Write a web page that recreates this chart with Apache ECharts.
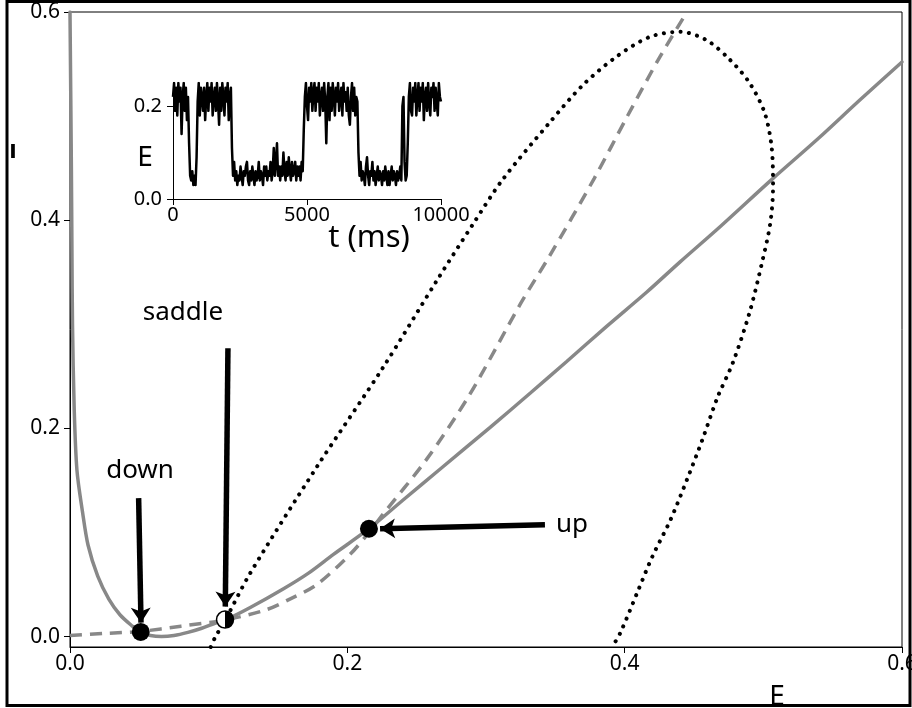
<!DOCTYPE html>
<html><head><meta charset="utf-8">
<script src="https://cdn.jsdelivr.net/npm/echarts@6/dist/echarts.min.js"></script>
<style>html,body{margin:0;padding:0;background:#fff}#c{width:912px;height:708px}</style>
</head><body><div id="c"></div>
<script>
// ---------- data ----------
const mainXTicks = [0, 0.2, 0.4, 0.6];
const mainYTicks = [0, 0.2, 0.4, 0.6];
const insetXTicks = [0, 5000, 10000];
const insetYTicks = [0, 0.2];

// solid grey nullcline [E, I]
const solidCurve = [
  [0.000,0.600],[0.0010,0.450],[0.0014,0.370],[0.0018,0.300],[0.003,0.220],[0.005,0.160],
  [0.009,0.120],[0.013,0.088],[0.020,0.058],[0.028,0.036],[0.036,0.021],[0.045,0.010],
  [0.051,0.004],[0.058,0.001],[0.066,0.000],[0.075,0.001],[0.085,0.004],[0.095,0.008],
  [0.105,0.013],[0.112,0.016],[0.130,0.028],[0.154,0.046],[0.172,0.061],[0.190,0.079],
  [0.2156,0.1036],[0.240,0.131],[0.267,0.161],[0.303,0.201],[0.332,0.234],[0.358,0.264],
  [0.387,0.298],[0.416,0.331],[0.440,0.360],[0.469,0.394],[0.506,0.439],[0.540,0.479],
  [0.570,0.516],[0.600,0.552]
];
// dashed grey nullcline [E, I]
const dashedCurve = [
  [0.000,0.001],[0.025,0.003],[0.051,0.005],[0.080,0.010],[0.112,0.016],[0.142,0.026],
  [0.160,0.037],[0.178,0.050],[0.202,0.079],[0.2156,0.1000],[0.226,0.118],[0.257,0.170],
  [0.288,0.232],[0.325,0.320],[0.346,0.366],[0.378,0.440],[0.402,0.500],[0.425,0.556],
  [0.444,0.598]
];
// dotted black curve [E, I]
const dottedCurve = [
  [0.1015,-0.010],[0.1046,-0.001],[0.112,0.016],[0.130,0.061],[0.178,0.163],[0.226,0.259],
  [0.265,0.343],[0.291,0.397],[0.312,0.439],[0.346,0.494],[0.370,0.530],[0.394,0.557],
  [0.418,0.576],[0.440,0.581],[0.459,0.573],[0.476,0.554],[0.490,0.532],[0.501,0.503],
  [0.506,0.470],[0.507,0.432],[0.505,0.397],[0.499,0.359],[0.490,0.311],[0.478,0.263],
  [0.467,0.230],[0.456,0.189],[0.445,0.151],[0.433,0.112],[0.420,0.077],[0.409,0.042],
  [0.397,0.004],[0.391,-0.010]
];
// fixed points
const pointNames = ['down', 'saddle', 'up'];
const pointE = [0.0510, 0.1118, 0.2156];
const pointI = [0.0045, 0.0163, 0.1036];
// annotation texts
const labelE = [0.0505, 0.0815, 0.362];
const labelI = [0.159, 0.311, 0.108];
// annotation arrows: [startE, startI, tipE, tipI]
const arrowDown = [0.0495, 0.133, 0.0512, 0.0134];
const arrowSaddle = [0.1139, 0.277, 0.1120, 0.0288];
const arrowUp = [0.3425, 0.1075, 0.2236, 0.1036];

// inset trace: E sampled every 40 ms from 0 to 10000 ms
const traceStepMs = 40;
const eTrace = [
  0.22,0.25,0.19,0.24,0.18,0.25,0.21,0.24,0.14,0.22,0.25,0.19,0.24,0.17,0.22,
  0.12,0.05,0.04,0.06,0.03,0.05,0.03,0.09,
  0.21,0.25,0.18,0.24,0.22,0.19,0.24,0.17,0.22,0.25,
  0.19,0.24,0.21,0.25,0.18,0.22,0.24,0.19,0.25,0.21,
  0.16,0.24,0.19,0.25,0.22,0.18,0.24,0.21,0.25,0.17,
  0.22,0.24,
  0.11,0.05,
  0.08,0.04,0.06,0.03,0.05,0.04,0.07,0.05,0.03,0.06,
  0.05,0.07,0.08,0.04,0.03,0.06,0.04,0.07,0.05,0.03,
  0.06,0.04,0.05,0.08,0.04,0.06,0.05,0.03,0.07,0.05,
  0.07,0.04,0.06,0.05,0.08,0.04,0.06,0.11,0.05,0.08,
  0.12,0.05,0.07,0.04,0.07,0.05,0.10,0.06,0.04,0.08,
  0.05,0.09,0.06,0.04,0.08,0.05,0.06,0.08,0.04,0.07,
  0.05,0.07,0.04,0.08,0.06,
  0.15,0.22,
  0.25,0.20,0.17,0.24,0.21,0.25,0.19,0.23,0.25,0.19,
  0.24,0.21,0.25,0.18,0.22,0.24,0.19,0.25,0.21,0.12,
  0.22,0.25,0.17,0.24,0.19,0.25,0.22,0.18,0.24,0.21,
  0.25,0.19,0.22,0.24,0.18,0.25,0.21,0.23,0.19,0.24,
  0.18,0.16,0.22,0.25,0.19,0.24,0.18,0.22,0.21,
  0.10,0.05,
  0.08,0.04,0.06,0.05,0.03,0.07,0.09,0.05,0.03,0.06,
  0.05,0.08,0.04,0.06,0.03,0.05,0.07,0.04,0.06,0.05,
  0.03,0.06,0.04,0.07,0.05,0.03,0.06,0.03,0.05,0.07,
  0.04,0.06,0.05,0.03,0.06,0.04,0.05,0.07,0.04,
  0.20,0.22,0.08,0.04,0.05,0.12,0.22,
  0.25,0.19,0.18,0.24,0.21,0.25,0.18,0.22,0.25,0.19,
  0.24,0.21,0.25,0.17,0.22,0.24,0.19,0.25,0.21,0.18,
  0.24,0.22,0.25,0.19,0.24,0.21,0.18,0.25,0.22,0.21
];

// ---------- chart ----------
const FONT = 'Noto Sans';
const GREY = '#888888';
const chart = echarts.init(document.getElementById('c'), null, {renderer: 'canvas'});

const tracePairs = eTrace.map((v, i) => [i * traceStepMs, v]);

const saddleFill = new echarts.graphic.LinearGradient(0, 0, 1, 0, [
  {offset: 0, color: '#fff'}, {offset: 0.5, color: '#fff'},
  {offset: 0.5, color: '#000'}, {offset: 1, color: '#000'}
]);
const pointData = pointNames.map((n, k) => ({
  name: n,
  value: [pointE[k], pointI[k]],
  symbolSize: n === 'saddle' ? 17 : 18,
  itemStyle: n === 'saddle'
    ? {color: saddleFill, borderColor: '#000', borderWidth: 1.5, opacity: 1}
    : {color: '#000', borderColor: '#000', borderWidth: 0, opacity: 1}
}));
const labelData = pointNames.map((n, k) => ({name: n, value: [labelE[k], labelI[k]]}));
const arrowLine = a => [{coord: [a[0], a[1]]}, {coord: [a[2], a[3]]}];

const axisCommon = (gridIndex, ticks, fmt, margin, fs) => ({
  gridIndex,
  type: 'value',
  splitLine: {show: false},
  axisLine: {show: true, onZero: false, lineStyle: {color: '#000', width: 1}},
  axisTick: {show: true, customValues: ticks, length: 6, lineStyle: {color: '#000', width: 1}},
  axisLabel: {show: true, customValues: ticks, formatter: fmt, color: '#000',
    fontFamily: FONT, fontSize: fs, margin: margin}
});

chart.setOption({
  animation: false,
  backgroundColor: '#fff',
  grid: [
    {left: 70, top: 12, width: 832, height: 635, show: true, borderColor: '#000', borderWidth: 1,
     backgroundColor: 'transparent', containLabel: false, outerBoundsMode: 'none'},
    {left: 173, top: 83, width: 268, height: 116, show: false, containLabel: false, outerBoundsMode: 'none'}
  ],
  xAxis: [
    Object.assign(axisCommon(0, mainXTicks, v => v.toFixed(1), 7, 21), {min: 0, max: 0.6}),
    Object.assign(axisCommon(1, insetXTicks, v => String(v), 6, 20), {min: 0, max: 10000})
  ],
  yAxis: [
    Object.assign(axisCommon(0, mainYTicks, v => v.toFixed(1), 10, 21), {min: -0.01, max: 0.6}),
    Object.assign(axisCommon(1, insetYTicks, v => v.toFixed(1), 11, 20), {min: 0, max: 0.25})
  ],
  series: [
    {name: 'solid', type: 'line', xAxisIndex: 0, yAxisIndex: 0, data: solidCurve,
     smooth: 0.3, symbol: 'none', lineStyle: {color: GREY, width: 3.5, cap: 'round'}, z: 2},
    {name: 'dashed', type: 'line', xAxisIndex: 0, yAxisIndex: 0, data: dashedCurve,
     smooth: 0.3, symbol: 'none', lineStyle: {color: GREY, width: 3.5, type: [12, 8]}, z: 2},
    {name: 'dotted', type: 'line', xAxisIndex: 0, yAxisIndex: 0, data: dottedCurve,
     smooth: 0.3, symbol: 'none', lineStyle: {color: '#000', width: 4, type: [0.1, 8.3], cap: 'round'}, z: 3},
    {name: 'points', type: 'scatter', xAxisIndex: 0, yAxisIndex: 0, data: pointData, z: 10,
     itemStyle: {opacity: 1}, emphasis: {disabled: true}},
    {name: 'labels', type: 'scatter', xAxisIndex: 0, yAxisIndex: 0, data: labelData, symbolSize: 0,
     itemStyle: {opacity: 1, color: '#000'}, emphasis: {disabled: true},
     label: {show: true, position: 'inside', formatter: '{b}', color: '#000', opacity: 1,
       fontFamily: FONT, fontSize: 26},
     markLine: {silent: true, symbol: ['none', 'arrow'], symbolSize: 15, animation: false,
       label: {show: false},
       lineStyle: {color: '#000', width: 5.5, type: 'solid', opacity: 1},
       data: [arrowLine(arrowDown), arrowLine(arrowSaddle), arrowLine(arrowUp)]},
     z: 11},
    {name: 'trace', type: 'line', xAxisIndex: 1, yAxisIndex: 1, data: tracePairs,
     symbol: 'none', lineStyle: {color: '#000', width: 2.5, join: 'round'}, z: 5}
  ],
  graphic: [
    {type: 'text', x: 13, y: 153, silent: true,
     style: {text: 'I', fontFamily: 'DejaVu Sans', fontWeight: 'bold', fontSize: 20, fill: '#000',
       align: 'center', verticalAlign: 'middle'}},
    {type: 'text', x: 777, y: 697, silent: true,
     style: {text: 'E', fontFamily: FONT, fontSize: 28, fill: '#000', align: 'center', verticalAlign: 'middle'}},
    {type: 'text', x: 145, y: 158, silent: true,
     style: {text: 'E', fontFamily: FONT, fontSize: 28, fill: '#000', align: 'center', verticalAlign: 'middle'}},
    {type: 'text', x: 369, y: 238, silent: true,
     style: {text: 't (ms)', fontFamily: FONT, fontSize: 31, fill: '#000', align: 'center', verticalAlign: 'middle'}},
    {type: 'rect', silent: true, z: 100,
     shape: {x: 7, y: 1.5, width: 903, height: 704},
     style: {fill: 'none', stroke: '#000', lineWidth: 3}}
  ]
});
</script>
</body></html>
